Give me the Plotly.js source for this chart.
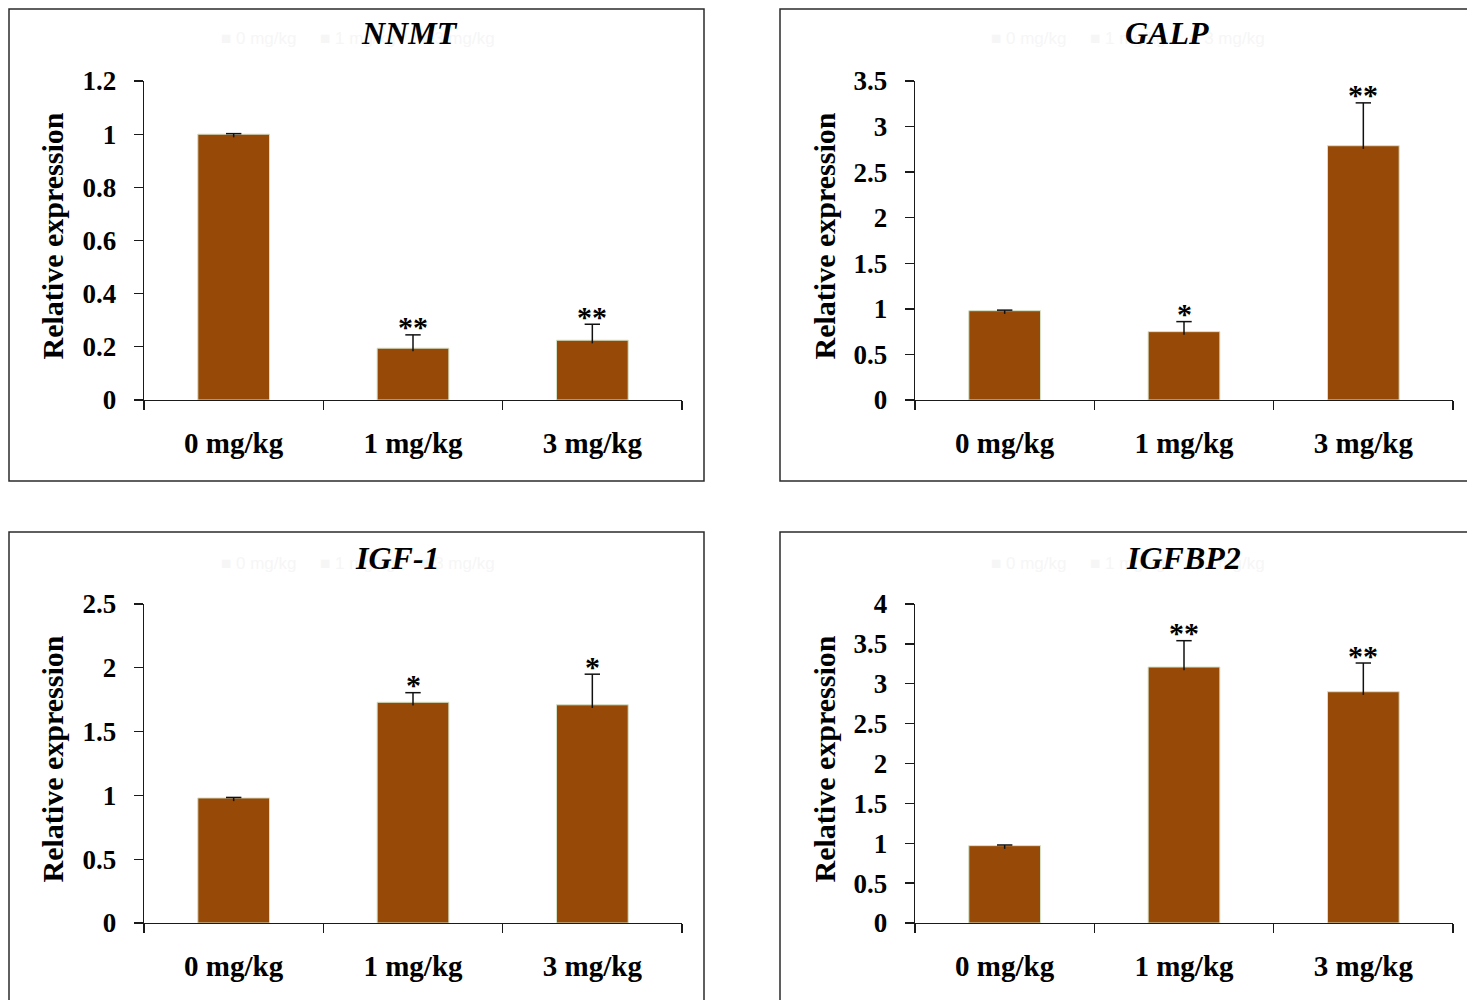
<!DOCTYPE html>
<html>
<head>
<meta charset="utf-8">
<script src="https://cdn.plot.ly/plotly-3.0.1.min.js"></script>
<style>html,body{margin:0;padding:0;background:#fff;}#chart{width:1467px;height:1000px;}</style>
</head>
<body>
<div id="chart"></div>
<script>
// ---- data ----
const categories = ['0 mg/kg', '1 mg/kg', '3 mg/kg'];
const genes = ['NNMT', 'GALP', 'IGF-1', 'IGFBP2'];

const nnmtMean = [1.00, 0.195, 0.225];
const nnmtErr  = [0.002, 0.05, 0.06];
const nnmtSig  = ['', '**', '**'];

const galpMean = [0.98, 0.75, 2.79];
const galpErr  = [0.006, 0.11, 0.47];
const galpSig  = ['', '*', '**'];

const igf1Mean = [0.98, 1.73, 1.71];
const igf1Err  = [0.004, 0.075, 0.24];
const igf1Sig  = ['', '*', '*'];

const igfbp2Mean = [0.97, 3.21, 2.90];
const igfbp2Err  = [0.008, 0.33, 0.36];
const igfbp2Sig  = ['', '**', '**'];

const yMax   = [1.2, 3.5, 2.5, 4];
const yDtick = [0.2, 0.5, 0.5, 0.5];
const yTitle = 'Relative expression';
const legendGhost = '\u25A0 0 mg/kg     \u25A0 1 mg/kg     \u25A0 3 mg/kg';

// ---- layout helpers ----
const W = 1467, H = 1000;
const px = v => v / W;
const py = v => 1 - v / H;

const means = [nnmtMean, galpMean, igf1Mean, igfbp2Mean];
const errs  = [nnmtErr, galpErr, igf1Err, igfbp2Err];
const sigs  = [nnmtSig, galpSig, igf1Sig, igfbp2Sig];

// panel geometry (pixels)
const panels = [
  {x0: 144, x1: 682,  yb: 400, yt: 81,  frame: [9, 9, 704, 481],    titleX: 409,  titleY: 33,  ytX: 53,  ghostX: 358},
  {x0: 915, x1: 1453, yb: 400, yt: 81,  frame: [780, 9, 1480, 481],  titleX: 1167, titleY: 33,  ytX: 825, ghostX: 1128},
  {x0: 144, x1: 682,  yb: 923, yt: 604, frame: [9, 532, 704, 1010],  titleX: 397,  titleY: 558, ytX: 53,  ghostX: 358},
  {x0: 915, x1: 1453, yb: 923, yt: 604, frame: [780, 532, 1480, 1010], titleX: 1183, titleY: 558, ytX: 825, ghostX: 1128}
];

const serif = 'Liberation Serif, Times New Roman, serif';
const axisColor = '#1a1a1a';
const barColor = '#974A08';
const errColor = '#111111';

const data = [];
const layout = {
  width: W, height: H,
  margin: {l: 0, r: 0, t: 0, b: 0},
  paper_bgcolor: '#ffffff',
  plot_bgcolor: '#ffffff',
  showlegend: false,
  bargap: 0.6,
  annotations: [],
  shapes: []
};

panels.forEach((p, i) => {
  const n = i + 1;
  const xa = n === 1 ? 'x' : 'x' + n;
  const ya = n === 1 ? 'y' : 'y' + n;
  // bars with error stems (stem dips slightly into the bar, no lower cap)
  data.push({
    type: 'bar',
    x: categories,
    y: means[i],
    xaxis: xa, yaxis: ya,
    marker: {color: barColor, line: {color: '#d2e3c8', width: 1}},
    error_y: {
      type: 'data', symmetric: false,
      array: errs[i], arrayminus: errs[i].map(() => yMax[i] * 0.01),
      color: errColor, thickness: 1.5, width: 0
    },
    hoverinfo: 'x+y'
  });
  // top caps of the error bars
  data.push({
    type: 'scatter', mode: 'markers',
    x: categories,
    y: means[i].map((m, k) => m + errs[i][k]),
    xaxis: xa, yaxis: ya,
    marker: {symbol: 'line-ew-open', size: 11, color: errColor, line: {color: errColor, width: 1.5}},
    hoverinfo: 'skip', cliponaxis: false
  });
  layout['xaxis' + (n === 1 ? '' : n)] = {
    domain: [px(p.x0), px(p.x1)],
    anchor: ya,
    type: 'category',
    range: [-0.5, 2.5],
    showline: true, linecolor: axisColor, linewidth: 1.3,
    ticks: 'outside', tickson: 'boundaries', ticklen: 9, tickwidth: 1.3, tickcolor: axisColor,
    tickfont: {family: serif, size: 29, color: '#000', weight: 'bold'},
    ticklabelstandoff: 17,
    showgrid: false, zeroline: false, fixedrange: true
  };
  layout['yaxis' + (n === 1 ? '' : n)] = {
    domain: [py(p.yb), py(p.yt)],
    anchor: xa,
    range: [0, yMax[i]],
    dtick: yDtick[i], tick0: 0,
    showline: true, linecolor: axisColor, linewidth: 1.3,
    ticks: 'outside', ticklen: 9, tickwidth: 1.3, tickcolor: axisColor,
    tickfont: {family: serif, size: 27, color: '#000', weight: 'bold'},
    ticklabelstandoff: 12,
    showgrid: false, zeroline: false, fixedrange: true
  };
  // frame
  layout.shapes.push({
    type: 'rect', xref: 'paper', yref: 'paper',
    x0: px(p.frame[0]), x1: px(p.frame[2]), y0: py(p.frame[3]), y1: py(p.frame[1]),
    line: {color: '#2b2b2b', width: 1.5}, fillcolor: 'rgba(0,0,0,0)', layer: 'below'
  });
  // faint leftover legend (almost invisible in the original)
  layout.annotations.push({
    xref: 'paper', yref: 'paper', x: px(p.ghostX), y: py(p.titleY + 5),
    text: legendGhost, showarrow: false,
    font: {family: 'Liberation Sans, Arial, sans-serif', size: 17, color: '#f6f6f6'},
    xanchor: 'center', yanchor: 'middle'
  });
  // panel title
  layout.annotations.push({
    xref: 'paper', yref: 'paper', x: px(p.titleX), y: py(p.titleY),
    text: genes[i], showarrow: false,
    font: {family: serif, size: 32, color: '#000', weight: 'bold', style: 'italic'},
    xanchor: 'center', yanchor: 'middle'
  });
  // y title
  layout.annotations.push({
    xref: 'paper', yref: 'paper', x: px(p.ytX - 1), y: py((p.yb + p.yt) / 2 - 4),
    text: yTitle, showarrow: false, textangle: -90,
    font: {family: serif, size: 30, color: '#000', weight: 'bold'},
    xanchor: 'center', yanchor: 'middle'
  });
  // significance marks
  sigs[i].forEach((s, k) => {
    if (!s) return;
    layout.annotations.push({
      xref: xa, yref: ya, x: categories[k], y: means[i][k] + errs[i][k],
      text: s, showarrow: false,
      font: {family: serif, size: 30, color: '#000', weight: 'bold'},
      xanchor: 'center', yanchor: 'middle', yshift: 8
    });
  });
});

Plotly.newPlot('chart', data, layout, {displayModeBar: false, staticPlot: true});
</script>
</body>
</html>
